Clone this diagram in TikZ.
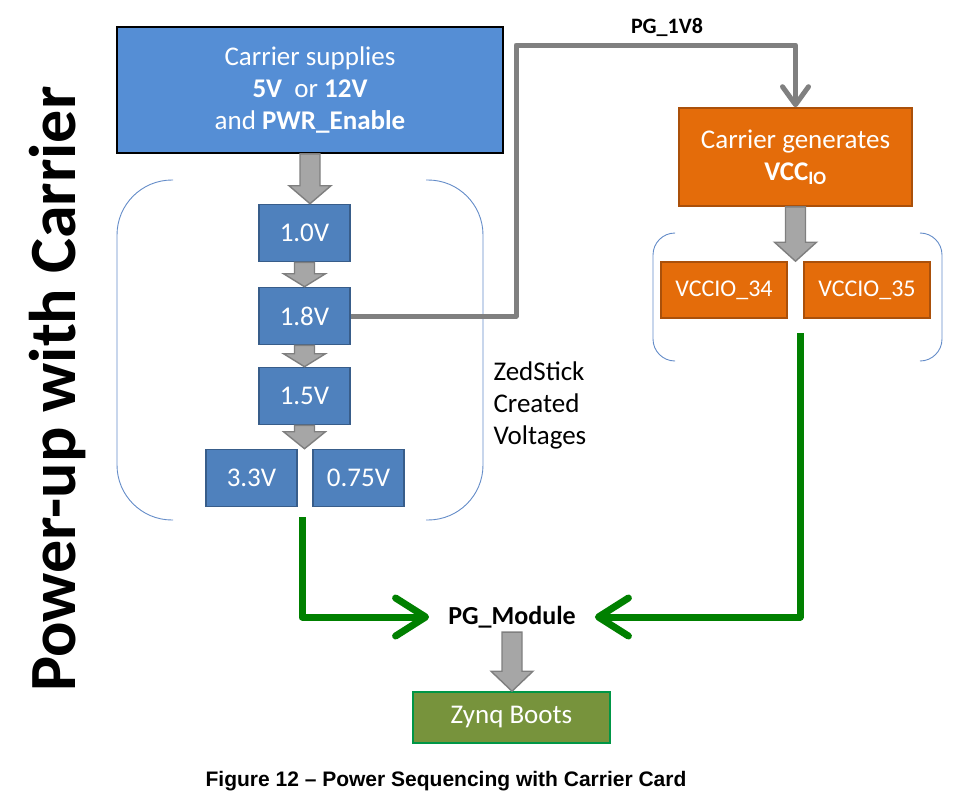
\documentclass[tikz,border=0pt]{standalone}
\usepackage{fontspec}
\setmainfont{Carlito}
\newfontfamily\captionfont{Liberation Sans}
\usepackage{tikz}
\usetikzlibrary{arrows.meta, positioning, calc}
\definecolor{supplycolor}{RGB}{85, 142, 213}
\definecolor{voltcolor}{RGB}{79, 129, 189}
\definecolor{voltedge}{RGB}{56, 93, 138}
\definecolor{arrowgray}{RGB}{166, 166, 166}
\definecolor{arrowedge}{RGB}{127, 127, 127}
\definecolor{linegray}{RGB}{128, 128, 128}
\definecolor{carriercolor}{RGB}{228, 108, 10}
\definecolor{carrieredge}{RGB}{170, 80, 10}
\definecolor{bootcolor}{RGB}{119, 147, 60}
\definecolor{bootedge}{RGB}{0, 150, 70}
\definecolor{goodgreen}{RGB}{0, 128, 0}
\definecolor{bracketblue}{RGB}{100, 140, 200}

% block arrow: from, to, head length
\newcommand{\fatarrow}[3]{%
  \filldraw[fatarrow] let \p1=(#1), \p2=(#2) in
    (\x1-10pt,\y1) -- (\x1+10pt,\y1) -- (\x1+10pt,\y2+#3) -- (\x1+21pt,\y2+#3)
    -- (\x1,\y2) -- (\x1-21pt,\y2+#3) -- (\x1-10pt,\y2+#3) -- cycle;}

\begin{document}
\begin{tikzpicture}[x=1pt, y=-1pt,
    supplybox/.style={draw=black, line width=1.6pt, fill=supplycolor, text=white, align=center, inner sep=0pt, minimum width=386pt, minimum height=126pt, font=\fontsize{27}{32}\selectfont},
    voltbox/.style={draw=voltedge, line width=1.6pt, fill=voltcolor, text=white, inner sep=0pt, minimum width=91pt, minimum height=57pt, font=\fontsize{27}{30}\selectfont},
    carrierbox/.style={draw=carrieredge, line width=1.6pt, fill=carriercolor, text=white, align=center, inner sep=0pt, font=\fontsize{27}{32}\selectfont},
    bootbox/.style={draw=bootedge, line width=1.6pt, fill=bootcolor, text=white, inner sep=0pt, minimum width=197pt, minimum height=51pt, font=\fontsize{27}{30}\selectfont},
    fatarrow/.style={fill=arrowgray, draw=arrowedge, line width=1.4pt, line join=miter},
    pgline/.style={draw=linegray, line width=5pt, line join=round, -{Straight Barb[length=18pt, width=26pt, round]}},
    goodline/.style={draw=goodgreen, line width=7pt, line join=round, -{Straight Barb[length=30pt, width=38pt, round]}},
    bracket/.style={draw=bracketblue, line width=0.9pt},
    lbl/.style={text=black, font=\fontsize{27}{32}\selectfont}]
        \useasboundingbox (0,0) rectangle (964,806);

        % Title
        \node[rotate=90, font=\fontsize{66}{70}\selectfont\bfseries] (title) at (58, 389) {Power-up with Carrier};

        % ZedStick voltages
        \node[supplybox] (supply) at (310, 90) {Carrier supplies\\\textbf{5V}\ \ or \textbf{12V}\\and \textbf{PWR\_Enable}};
        \node[voltbox] (v10) at (304.5, 233) {1.0V};
        \node[voltbox] (v18) at (304.5, 316) {1.8V};
        \node[voltbox] (v15) at (304.5, 396) {1.5V};
        \node[voltbox] (v33) at (251.5, 478) {3.3V};
        \node[voltbox] (v075) at (358.5, 478) {0.75V};
        \coordinate (split1) at ($(v33.north east)!0.5!(v075.north west)$);

        \draw[bracket, rounded corners=55pt] (173, 180) -| (117, 520) -- (173, 520);
        \draw[bracket, rounded corners=55pt] (426, 180) -| (483, 520) -- (426, 520);
        \node[lbl, anchor=west, align=left] (zed) at (490, 405) {ZedStick\\Created\\Voltages};

        \fatarrow{supply.south}{v10.north}{18pt}
        \fatarrow{v10.south}{v18.north}{13pt}
        \fatarrow{v18.south}{v15.north}{13pt}
        \fatarrow{v15.south}{split1}{17pt}

        % Carrier I/O voltages
        \node[carrierbox, minimum width=233pt, minimum height=98pt] (gen) at (795.5, 157) {Carrier generates\\\textbf{VCC\textsubscript{IO}}};
        \node[carrierbox, minimum width=126pt, minimum height=56pt, font=\fontsize{24}{28}\selectfont] (io34) at (724, 290) {VCCIO\_34};
        \node[carrierbox, minimum width=126pt, minimum height=56pt, font=\fontsize{24}{28}\selectfont] (io35) at (867, 290) {VCCIO\_35};
        \coordinate (split2) at ($(io34.north east)!0.5!(io35.north west)$);

        \draw[bracket, rounded corners=22pt] (674, 233) -| (653, 361) -- (674, 361);
        \draw[bracket, rounded corners=22pt] (922, 233) -| (942, 361) -- (922, 361);

        \fatarrow{gen.south}{split2}{19pt}

        % Power good 1V8
        \coordinate (pgbend) at (516, 45);
        \draw[pgline] (v18.east) -| (pgbend) -| (gen.north);
        \node[font=\fontsize{22}{26}\selectfont\bfseries] (pglbl) at (667, 27) {PG\_1V8};

        % Power good module
        \node[lbl, font=\fontsize{26}{30}\selectfont\bfseries, inner xsep=19pt, inner ysep=4pt] (pgm) at (512, 617) {PG\_Module};
        \coordinate (zedout) at (302, 517);
        \coordinate (ioout) at (800, 333);
        \draw[goodline] (zedout) |- (pgm.west);
        \draw[goodline] (ioout) |- (pgm.east);

        \node[bootbox] (boot) at (511.5, 717.5) {Zynq Boots};
        \fatarrow{pgm.south}{boot.north}{20pt}

        % Caption
        \node[font=\captionfont\fontsize{21}{24}\selectfont\bfseries] (caption) at (446, 781) {Figure 12 – Power Sequencing with Carrier Card};
    \end{tikzpicture}
\end{document}
